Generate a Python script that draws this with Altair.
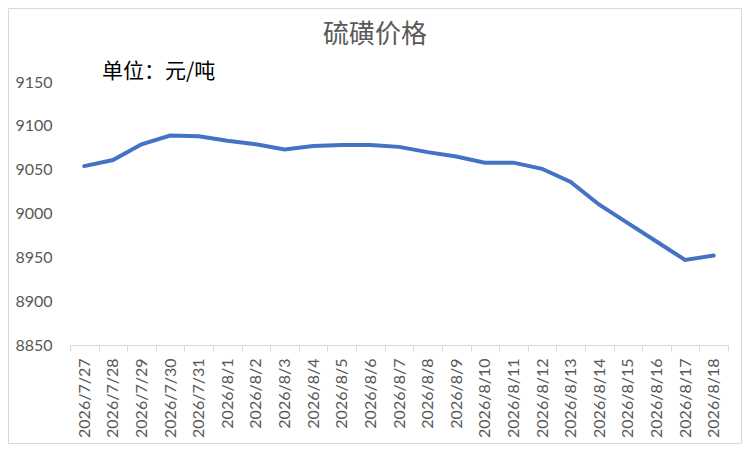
import altair as alt
import pandas as pd

dates = ["2026/7/27", "2026/7/28", "2026/7/29", "2026/7/30", "2026/7/31",
         "2026/8/1", "2026/8/2", "2026/8/3", "2026/8/4", "2026/8/5", "2026/8/6",
         "2026/8/7", "2026/8/8", "2026/8/9", "2026/8/10", "2026/8/11", "2026/8/12",
         "2026/8/13", "2026/8/14", "2026/8/15", "2026/8/16", "2026/8/17", "2026/8/18"]
prices = [9054, 9061, 9079, 9089, 9088, 9083, 9079, 9073, 9077, 9078, 9078,
          9076, 9070, 9065, 9058, 9058, 9051, 9036, 9010, 8989, 8968, 8947, 8952]
y_ticks = [8850, 8900, 8950, 9000, 9050, 9100, 9150]
title_text = ["硫磺价格"]
unit_text = ["单位：元/吨"]

df = pd.DataFrame({"date": dates, "price": prices})

W, H = 658, 263

line = alt.Chart(df).mark_line(color="#4472C4", strokeWidth=4, strokeCap="round").encode(
    x=alt.X("date:O", sort=None,
            scale=alt.Scale(type="band", paddingInner=0, paddingOuter=0),
            axis=alt.Axis(title=None, labelAngle=-90, tickBand="extent",
                          domainColor="#d9d9d9", tickColor="#d9d9d9", tickSize=6,
                          labelPadding=7, labelFont="Lato", labelFontSize=16,
                          labelColor="#595959", grid=False)),
    y=alt.Y("price:Q",
            scale=alt.Scale(domain=[8850, 9150], nice=False, zero=False),
            axis=alt.Axis(title=None, values=y_ticks, format="d", domain=False,
                          ticks=False, grid=False, labelPadding=18, labelFont="Lato",
                          labelFontSize=16, labelColor="#595959")),
)

title = alt.Chart(pd.DataFrame({"t": title_text})).mark_text(
    font="Noto Sans CJK SC", fontSize=26, color="#595959",
    align="center", baseline="middle"
).encode(text="t:N", x=alt.value(305), y=alt.value(-47))

unit = alt.Chart(pd.DataFrame({"t": unit_text})).mark_text(
    font="Noto Sans CJK SC", fontSize=21, color="#000000",
    align="left", baseline="middle"
).encode(text="t:N", x=alt.value(32), y=alt.value(-10))

border = alt.Chart(pd.DataFrame({"t": [0]})).mark_rect(
    fill=None, stroke="#d9d9d9", strokeWidth=1
).encode(x=alt.value(-61.5), x2=alt.value(W + 13.5),
         y=alt.value(-73.5), y2=alt.value(H + 98.5))

chart = alt.layer(border, line, title, unit).properties(
    width=W, height=H,
    autosize=alt.AutoSizeParams(type="none"),
    padding={"left": 62, "top": 74, "right": 14, "bottom": 99},
    background="white",
).configure_view(stroke=None)

chart.save("out.html", embed_options={"renderer": "svg", "actions": False})
